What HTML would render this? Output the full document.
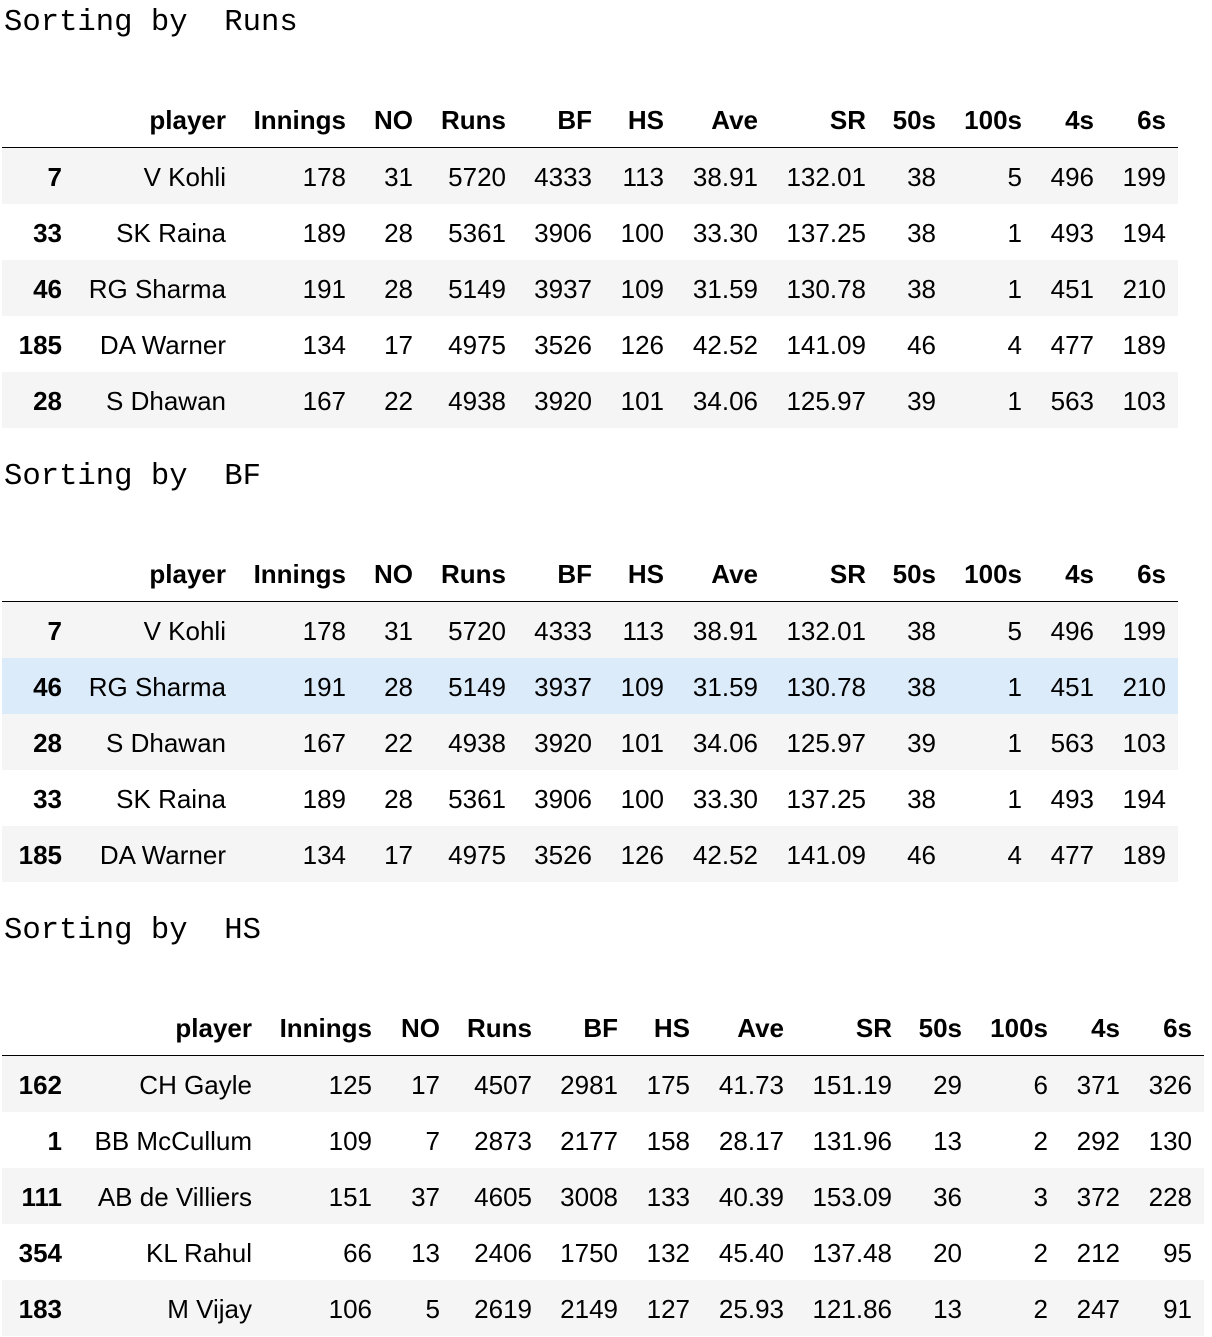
<!DOCTYPE html>
<html><head><meta charset="utf-8"><style>
body{margin:0;width:1212px;height:1336px;background:#fff;position:relative;overflow:hidden;font-family:"Liberation Sans",Arial,sans-serif;color:#000}
.title{position:absolute;left:4px;font-family:"Liberation Mono",monospace;font-size:30.6px;line-height:30px;white-space:pre}
.row{position:absolute;left:2px;height:56px}
.c{position:absolute;font-size:26px;line-height:56px;text-align:right;white-space:nowrap}
.h{font-weight:bold}
.line{position:absolute;left:2px;height:2px;background:#000}
</style></head><body>
<script>
const headers=["player","Innings","NO","Runs","BF","HS","Ave","SR","50s","100s","4s","6s"];
const titles=["Runs","BF","HS"];
const tableRows=[
[["7","V Kohli","178","31","5720","4333","113","38.91","132.01","38","5","496","199"],
["33","SK Raina","189","28","5361","3906","100","33.30","137.25","38","1","493","194"],
["46","RG Sharma","191","28","5149","3937","109","31.59","130.78","38","1","451","210"],
["185","DA Warner","134","17","4975","3526","126","42.52","141.09","46","4","477","189"],
["28","S Dhawan","167","22","4938","3920","101","34.06","125.97","39","1","563","103"]],
[["7","V Kohli","178","31","5720","4333","113","38.91","132.01","38","5","496","199"],
["46","RG Sharma","191","28","5149","3937","109","31.59","130.78","38","1","451","210"],
["28","S Dhawan","167","22","4938","3920","101","34.06","125.97","39","1","563","103"],
["33","SK Raina","189","28","5361","3906","100","33.30","137.25","38","1","493","194"],
["185","DA Warner","134","17","4975","3526","126","42.52","141.09","46","4","477","189"]],
[["162","CH Gayle","125","17","4507","2981","175","41.73","151.19","29","6","371","326"],
["1","BB McCullum","109","7","2873","2177","158","28.17","131.96","13","2","292","130"],
["111","AB de Villiers","151","37","4605","3008","133","40.39","153.09","36","3","372","228"],
["354","KL Rahul","66","13","2406","1750","132","45.40","137.48","20","2","212","95"],
["183","M Vijay","106","5","2619","2149","127","25.93","121.86","13","2","247","91"]]];
const rightsA=[62,226,346,413,506,592,664,758,866,936,1022,1094,1166];
const rightsB=[62,252,372,440,532,618,690,784,892,962,1048,1120,1192];
const tops=[0,454,908];
function cell(parent,txt,right,top,bold,name){
  const d=document.createElement('div');
  d.className='c'+(bold?' h':'');
  d.textContent=txt;
  d.style.right=(1212-right)+'px';
  d.style.top=top+'px';
  
  
  parent.appendChild(d);
}
tops.forEach((t,ti)=>{
  const rights=ti===2?rightsB:rightsA;
  const width=rights[12]+12;
  const tt=document.createElement('div');
  tt.className='title';tt.style.top=(t+8)+'px';
  tt.textContent='Sorting by  '+titles[ti];
  
  
  document.body.appendChild(tt);
  headers.forEach((h,i)=>cell(document.body,h,rights[i+1],t+92,true,'column-header'));
  const ln=document.createElement('div');
  ln.className='line';ln.style.top=(t+147)+'px';ln.style.width=(width-2)+'px';
  
  
  document.body.appendChild(ln);
  tableRows[ti].forEach((r,ri)=>{
    const row=document.createElement('div');
    row.className='row';
    row.style.top=(t+148+ri*56)+'px';
    row.style.width=(width-2)+'px';
    let bg=ri%2===0?'#f5f5f5':'#fff';
    if(ti===1&&ri===1)bg='#dcebf9';
    row.style.background=bg;
    
    
    document.body.appendChild(row);
    r.forEach((v,ci)=>cell(document.body,v,rights[ci],t+149+ri*56,ci===0,ci===0?'row-index':'table-cell'));
  });
});
</script>
</body></html>
